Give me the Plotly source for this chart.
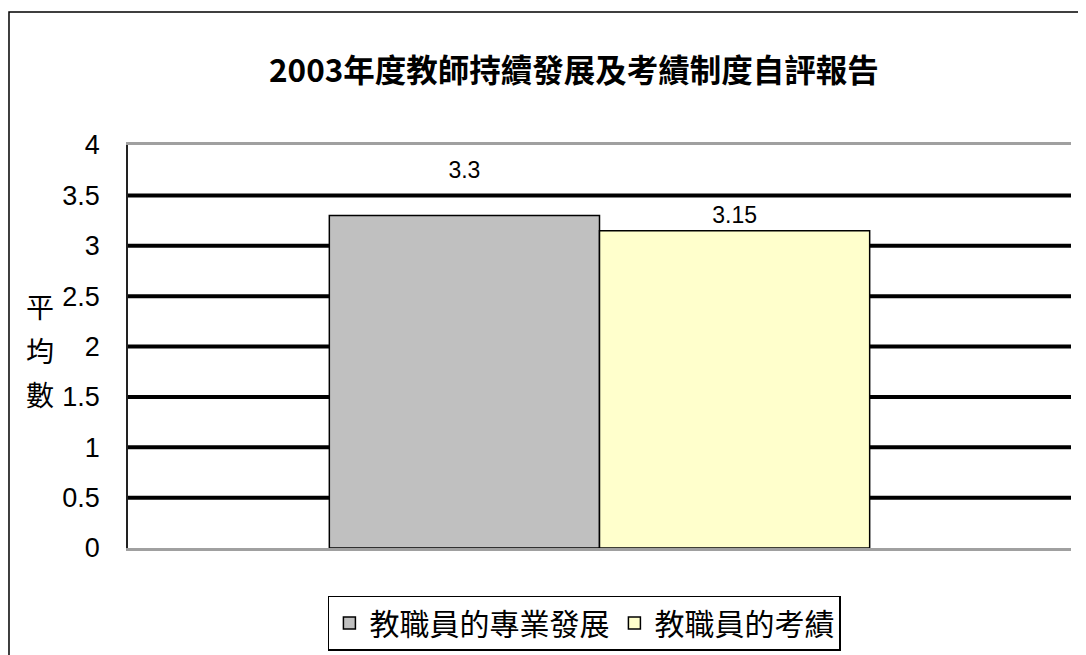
import plotly.graph_objects as go

categories = ["2003年度"]
series_names = ["教職員的專業發展", "教職員的考績"]
series_values = [[3.3], [3.15]]
series_colors = ["#C0C0C0", "#FFFFCC"]
label_extra_line = [True, False]
y_ticks = [0, 0.5, 1, 1.5, 2, 2.5, 3, 3.5, 4]
grid_ticks = [0.5, 1, 1.5, 2, 2.5, 3, 3.5]
title_text = "2003年度教師持續發展及考績制度自評報告"
y_title_chars = ["平", "均", "數"]

CJK = "Noto Sans CJK TC, Noto Sans CJK SC, sans-serif"
NUM = "Liberation Sans, Arial, sans-serif"

fig = go.Figure()
for name, vals, col, extra in zip(series_names, series_values, series_colors, label_extra_line):
    fig.add_trace(go.Bar(
        x=categories, y=vals, name=name,
        marker=dict(color=col, line=dict(color="black", width=1.5)),
        text=[f"{v:g}" for v in vals], textposition="outside",
        texttemplate="%{text}" + ("<br> " if extra else ""),
        textfont=dict(family=NUM, size=23, color="black"),
        cliponaxis=False,
    ))

for v in grid_ticks:
    fig.add_hline(y=v, line=dict(color="black", width=4), layer="below")

# outer chart-area border
fig.add_shape(
    type="rect", xref="paper", yref="paper",
    x0=-0.1262, x1=1.05, y0=-0.32, y1=1.330,
    line=dict(color="black", width=1.5), fillcolor="rgba(0,0,0,0)", layer="below",
)

annotations = []
for i, ch in enumerate(y_title_chars):
    annotations.append(dict(
        x=-0.093, y=1.965, xref="paper", yref="y", text=ch, showarrow=False,
        xanchor="center", yanchor="middle", yshift=(1 - i) * 44,
        font=dict(family=CJK, size=28, color="black"),
    ))
annotations.append(dict(
    x=0.473, y=1.19, xref="paper", yref="paper", text="<b>" + title_text + "</b>",
    showarrow=False, xanchor="center", yanchor="middle",
    font=dict(family=CJK, size=31.5, color="black"),
))

fig.update_layout(
    width=1078, height=647,
    margin=dict(l=120, r=15, t=137, b=107, autoexpand=False),
    paper_bgcolor="white", plot_bgcolor="white",
    barmode="group", bargap=0.427, bargroupgap=0,
    showlegend=True,
    legend=dict(
        orientation="h", x=0.484, y=-0.118, xanchor="center", yanchor="top",
        bordercolor="black", borderwidth=1.5, bgcolor="white",
        font=dict(family=CJK, size=30, color="black"),
        itemwidth=30, tracegroupgap=0,
    ),
    xaxis=dict(
        type="category", automargin=False,
        showticklabels=False, ticks="", showgrid=False,
        showline=True, mirror=True, linecolor="#a0a0a0", linewidth=3,
    ),
    yaxis=dict(
        range=[0, 4], tickvals=y_ticks, ticktext=[f"{v:g}" for v in y_ticks],
        showgrid=False, zeroline=False, ticks="", automargin=False,
        showline=True, linecolor="#222222", linewidth=1.5,
        ticklabelstandoff=21,
        tickfont=dict(family=NUM, size=27, color="black"),
    ),
    annotations=annotations,
)

fig.write_html("out.html")
